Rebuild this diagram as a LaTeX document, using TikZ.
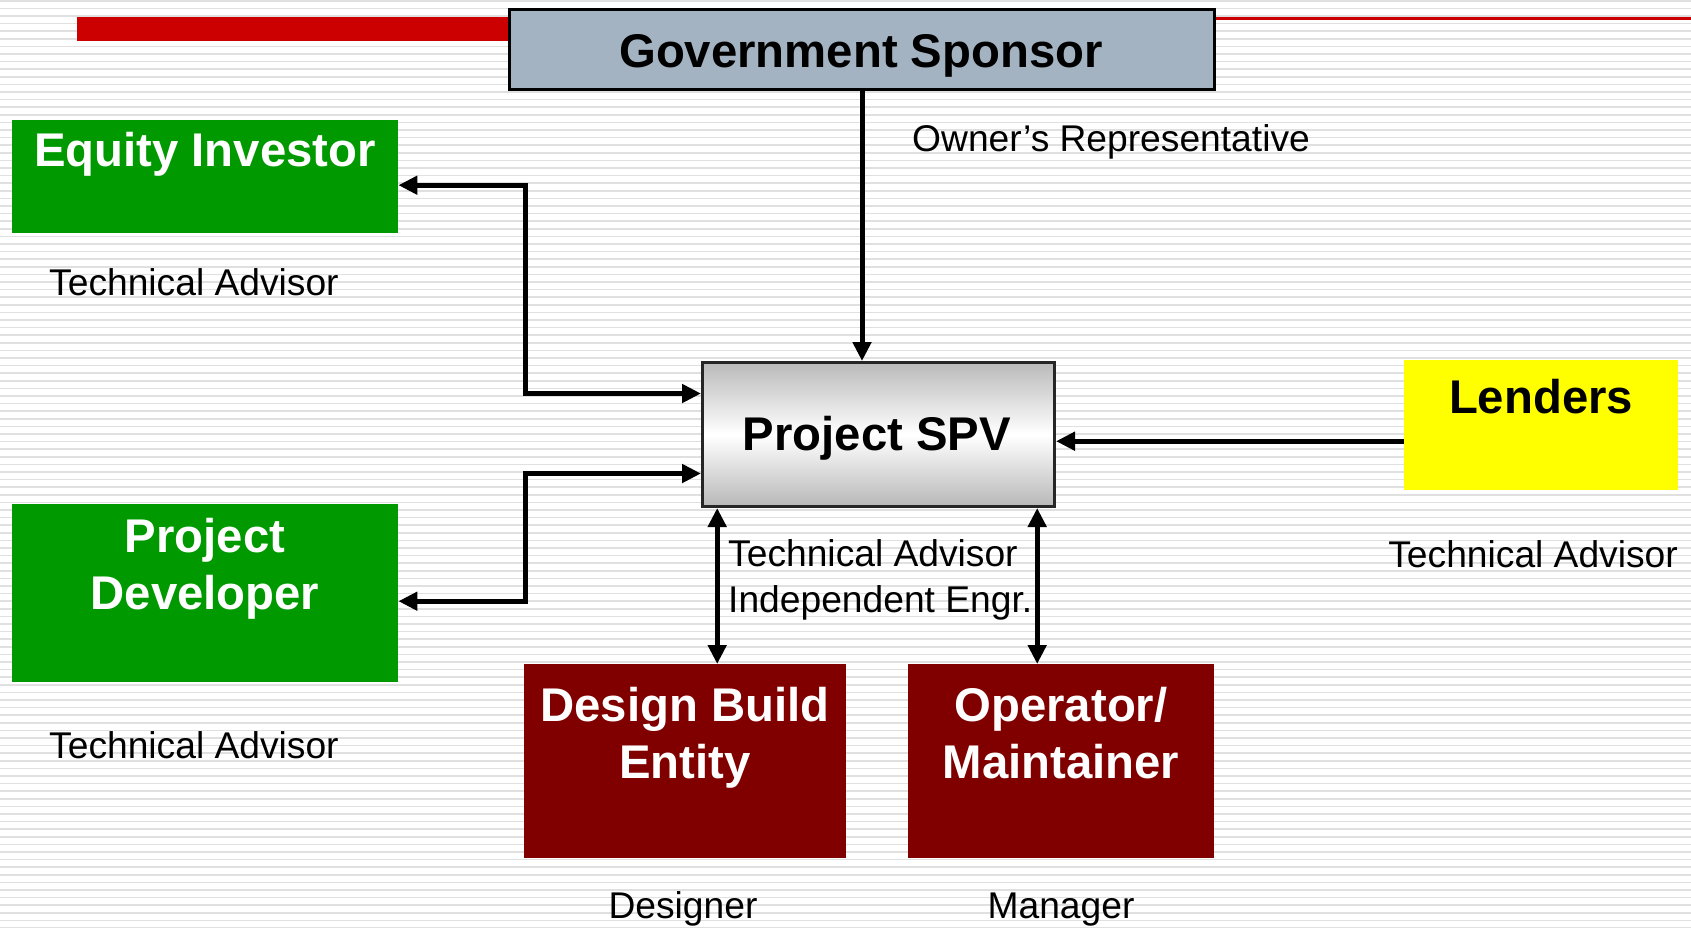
\documentclass[tikz,border=0pt]{standalone}
\usepackage{fontspec}
\setmainfont{Liberation Sans}
\usetikzlibrary{arrows.meta}
\definecolor{slidered}{HTML}{CC0000}
\definecolor{sponsorblue}{HTML}{A3B3C2}
\definecolor{equitygreen}{HTML}{009900}
\definecolor{contractred}{HTML}{800000}
\definecolor{lenderyellow}{HTML}{FFFF00}
\definecolor{stripe}{HTML}{E0E0E0}

\begin{document}
\begin{tikzpicture}[x=1pt,y=-1pt,
  box/.style={rectangle, inner sep=0pt, anchor=north west},
  title/.style={font=\fontsize{47.3}{56.5}\selectfont\bfseries, align=center, inner sep=0pt, anchor=base},
  note/.style={font=\fontsize{37.2}{46}\selectfont, inner sep=0pt, align=left},
  link/.style={line width=5pt, {Triangle[length=19pt,width=18pt]}-{Triangle[length=19pt,width=18pt]}},
  feed/.style={line width=5pt, -{Triangle[length=19pt,width=18pt]}}
]
% page and striped background
\fill[white] (0,0) rectangle (1691,927);
\useasboundingbox (0,0) rectangle (1691,927);
\foreach \k in {0,...,122}
  \draw[stripe, line width=1.6pt] (0,\k*7.6+0.8) -- (1691,\k*7.6+0.8);

% title rule
\fill[slidered] (77,17) rectangle (508,41);
\draw[slidered, line width=3pt] (1213,18) -- (1691,18);

% boxes
\node[box, fill=sponsorblue, draw=black, line width=3pt, minimum width=705pt, minimum height=80pt] (gov) at (508,8) {};
\node[box, fill=equitygreen, minimum width=386pt, minimum height=113pt] (eq) at (12,120) {};
\node[box, fill=equitygreen, minimum width=386pt, minimum height=178pt] (dev) at (12,504) {};
\node[box, draw=black!85, line width=3pt, top color=black!27, bottom color=black!28, middle color=white, minimum width=352pt, minimum height=144pt] (spv) at (701,361) {};
\node[box, fill=lenderyellow, minimum width=274pt, minimum height=130pt] (len) at (1404,360) {};
\node[box, fill=contractred, minimum width=322pt, minimum height=194pt] (dbe) at (524,664) {};
\node[box, fill=contractred, minimum width=306pt, minimum height=194pt] (om) at (908,664) {};

% box titles (base anchor sits on the last line)
\node[title] (govt) at (861,67) {Government Sponsor};
\node[title, white] (eqt) at (205,166) {Equity Investor};
\node[title, white] (devt) at (205,609) {Project\\Developer};
\node[title] (spvt) at (877,450) {Project SPV};
\node[title] (lent) at (1541,413) {Lenders};
\node[title, white] (dbet) at (685,778) {Design Build\\Entity};
\node[title, white] (omt) at (1061,778) {Operator/\\Maintainer};

% advisors and roles
\node[note, anchor=base west] (own) at (912,151) {Owner’s Representative};
\node[note, anchor=base west] (eqa) at (49,295) {Technical Advisor};
\node[note, anchor=base west] (deva) at (49,758) {Technical Advisor};
\node[note, anchor=base east] (lena) at (1678,567) {Technical Advisor};
\node[note, anchor=base west] (spva) at (728,612) {Technical Advisor\\Independent Engr.};
\node[note, anchor=base] (dsg) at (683,918) {Designer};
\node[note, anchor=base] (mgr) at (1061,918) {Manager};

% connectors
\draw[feed] (gov.south) -- (gov.south |- spv.north);
\draw[link] ([yshift=-8.5pt]eq.east) -- ++(127,0) |- ([yshift=41pt]spv.west);
\draw[link] ([yshift=-8pt]dev.east) -- ++(127,0) |- ([yshift=-39pt]spv.west);
\coordinate (lenin) at ([yshift=-16pt]len.west);
\draw[feed] (lenin) -- (lenin -| spv.east);
\draw[link] ([xshift=32pt]dbe.north) -- ([xshift=32pt]dbe.north |- spv.south);
\draw[link] ([xshift=-24pt]om.north) -- ([xshift=-24pt]om.north |- spv.south);
\end{tikzpicture}
\end{document}
